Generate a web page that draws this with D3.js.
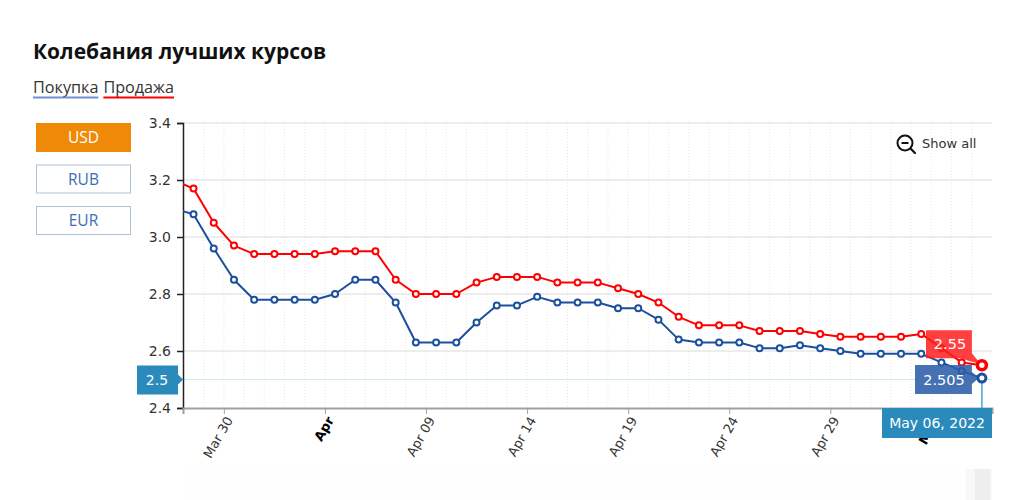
<!DOCTYPE html>
<html>
<head>
<meta charset="utf-8">
<script src="https://cdn.jsdelivr.net/npm/d3@7"></script>
<style>
  body { margin: 0; background: #fff; }
  svg { display: block; }
</style>
</head>
<body>
<div class="viz"></div>
<script>
// daily rates, first day sits just left of the visible window
const dates = [
  '2022-03-27', '2022-03-28', '2022-03-29', '2022-03-30', '2022-03-31',
  '2022-04-01', '2022-04-02', '2022-04-03', '2022-04-04', '2022-04-05',
  '2022-04-06', '2022-04-07', '2022-04-08', '2022-04-09', '2022-04-10',
  '2022-04-11', '2022-04-12', '2022-04-13', '2022-04-14', '2022-04-15',
  '2022-04-16', '2022-04-17', '2022-04-18', '2022-04-19', '2022-04-20',
  '2022-04-21', '2022-04-22', '2022-04-23', '2022-04-24', '2022-04-25',
  '2022-04-26', '2022-04-27', '2022-04-28', '2022-04-29', '2022-04-30',
  '2022-05-01', '2022-05-02', '2022-05-03', '2022-05-04', '2022-05-05',
  '2022-05-06'
]
const buyRates = [
  3.10, 3.08, 2.96, 2.85, 2.78, 2.78, 2.78, 2.78, 2.80, 2.85,
  2.85, 2.77, 2.63, 2.63, 2.63, 2.70, 2.76, 2.76, 2.79, 2.77,
  2.77, 2.77, 2.75, 2.75, 2.71, 2.64, 2.63, 2.63, 2.63, 2.61,
  2.61, 2.62, 2.61, 2.60, 2.59, 2.59, 2.59, 2.59, 2.56, 2.53,
  2.505
]
const sellRates = [
  3.20, 3.17, 3.05, 2.97, 2.94, 2.94, 2.94, 2.94, 2.95, 2.95,
  2.95, 2.85, 2.80, 2.80, 2.80, 2.84, 2.86, 2.86, 2.86, 2.84,
  2.84, 2.84, 2.82, 2.80, 2.77, 2.72, 2.69, 2.69, 2.69, 2.67,
  2.67, 2.67, 2.66, 2.65, 2.65, 2.65, 2.65, 2.66, 2.61, 2.56,
  2.55
]
const yTicks = [2.4, 2.6, 2.8, 3.0, 3.2, 3.4]
const xTickDates = ['2022-03-30', '2022-04-04', '2022-04-09', '2022-04-14', '2022-04-19', '2022-04-24', '2022-04-29', '2022-05-04']
const xTickLabels = ['Mar 30', 'Apr', 'Apr 09', 'Apr 14', 'Apr 19', 'Apr 24', 'Apr 29', 'May']
const monthTicks = ['Apr', 'May']
const currencies = ['USD', 'RUB', 'EUR']
const seriesNames = ['Покупка', 'Продажа']
const crosshairValue = 2.5

const parseDay = d3.utcParse('%Y-%m-%d')
const blue = '#1c4f9e'
const red = '#ff0000'
const teal = '#2a8abb'
const chartFont = '"DejaVu Sans", Verdana, sans-serif'
const pageFont = '"Open Sans", sans-serif'

const svg = d3.select('.viz')
  .append('svg')
    .attr('width', 1030)
    .attr('height', 500)

const plotLeft = 183, plotRight = 992, plotTop = 123, plotBottom = 408

// points sit at noon, ticks at midnight
const points = dates.map((d, i) => ({
  date: d3.utcHour.offset(parseDay(d), 12),
  buy: buyRates[i],
  sell: sellRates[i]
}))
const x = d3.scaleUtc()
  .domain([d3.utcMinute.offset(parseDay('2022-03-27'), 23 * 60 + 30), parseDay('2022-05-07')])
  .range([plotLeft, plotRight])
const y = d3.scaleLinear().domain([2.4, 3.4]).range([plotBottom, plotTop])

// title and legend
svg.append('text')
  .attr('x', 33).attr('y', 59)
  .attr('font-family', pageFont).attr('font-weight', 700).attr('font-size', 21)
  .attr('fill', '#111')
  .text('Колебания лучших курсов')

const legend = svg.append('g').attr('font-family', pageFont).attr('font-size', 16.2).attr('fill', '#333')
let lx = 33
seriesNames.forEach((name, i) => {
  const t = legend.append('text').attr('x', lx).attr('y', 93).text(name)
  const w = t.node().getComputedTextLength()
  legend.append('line')
    .attr('x1', lx).attr('x2', lx + w).attr('y1', 97.5).attr('y2', 97.5)
    .attr('stroke', i === 0 ? '#6f8fd6' : red).attr('stroke-width', 2)
  lx += w + 5
})

// currency buttons
const buttons = svg.selectAll('g.btn')
  .data(currencies).enter().append('g')
  .attr('class', 'btn')
  .attr('transform', (d, i) => `translate(36, ${123 + i * 41.5})`)
buttons.append('rect')
  .attr('x', 0.5).attr('y', 0.5).attr('width', 94).attr('height', 28)
  .attr('fill', (d, i) => i === 0 ? '#ee8a08' : '#fff')
  .attr('stroke', (d, i) => i === 0 ? '#ee8a08' : '#adc2d3')
buttons.append('text')
  .attr('x', 47.5).attr('y', 20)
  .attr('text-anchor', 'middle')
  .attr('font-family', pageFont).attr('font-size', 15.5)
  .attr('fill', (d, i) => i === 0 ? '#fff' : '#3d6db5')
  .text(d => d)

// faint navigator strip below
svg.append('rect').attr('x', 183).attr('y', 468).attr('width', 809).attr('height', 32).attr('fill', '#fefefe')
svg.append('rect').attr('x', 966).attr('y', 469).attr('width', 26).attr('height', 31).attr('fill', '#f8f8f8')
svg.append('rect').attr('x', 975).attr('y', 469).attr('width', 15).attr('height', 31).attr('fill', '#eeeeee')

// grid
svg.append('g')
  .selectAll('line')
  .data(d3.utcDay.range(x.domain()[0], x.domain()[1])).enter().append('line')
  .attr('x1', d => x(d)).attr('x2', d => x(d))
  .attr('y1', plotTop).attr('y2', plotBottom)
  .attr('stroke', '#e8e8e8').attr('stroke-dasharray', '1,2')

svg.append('g')
  .selectAll('line')
  .data(yTicks.slice(1)).enter().append('line')
  .attr('x1', plotLeft).attr('x2', plotRight)
  .attr('y1', d => y(d)).attr('y2', d => y(d))
  .attr('stroke', '#dcdcdc').attr('stroke-width', 1.2)

// crosshair at the hovered value
svg.append('line')
  .attr('x1', plotLeft).attr('x2', plotRight)
  .attr('y1', y(crosshairValue)).attr('y2', y(crosshairValue))
  .attr('stroke', '#cfe6f3')

// y axis
const yAxis = svg.append('g')
  .attr('transform', `translate(${plotLeft}, 0)`)
  .call(d3.axisLeft(y).tickValues(yTicks).tickFormat(d3.format('.1f')).tickSize(6).tickPadding(6))
yAxis.select('.domain').attr('stroke', '#222').attr('stroke-width', 1.5)
yAxis.selectAll('.tick line').attr('stroke', '#222').attr('stroke-width', 1.5)
yAxis.selectAll('text').attr('font-family', chartFont).attr('font-size', 14).attr('fill', '#333')

// x axis
const xAxis = svg.append('g')
  .attr('transform', `translate(0, ${plotBottom})`)
  .call(d3.axisBottom(x)
    .tickValues(xTickDates.map(parseDay))
    .tickFormat((d, i) => xTickLabels[i])
    .tickSizeOuter(0).tickSize(6))
xAxis.select('.domain').attr('stroke', '#a0a0a0').attr('stroke-width', 2)
xAxis.selectAll('.tick line').attr('stroke', '#a0a0a0')
xAxis.selectAll('text')
  .attr('font-family', chartFont).attr('font-size', 13)
  .attr('text-anchor', 'end')
  .attr('dy', 0)
  .attr('y', 0)
  .attr('transform', 'translate(9, 12) rotate(-60)')
  .attr('font-weight', function() { return monthTicks.includes(this.textContent) ? 700 : 400 })
  .attr('fill', function() { return monthTicks.includes(this.textContent) ? '#000' : '#333' })

// series
svg.append('clipPath').attr('id', 'plot')
  .append('rect').attr('x', plotLeft).attr('y', plotTop - 8).attr('width', plotRight - plotLeft + 8).attr('height', plotBottom - plotTop + 16)

const series = [
  { key: 'sell', color: red },
  { key: 'buy', color: blue }
]
const plot = svg.append('g').attr('clip-path', 'url(#plot)')
series.forEach(s => {
  plot.append('path')
    .datum(points)
    .attr('d', d3.line().x(d => x(d.date)).y(d => y(d[s.key])))
    .attr('fill', 'none')
    .attr('stroke', s.color)
    .attr('stroke-width', 2)
    .attr('stroke-linejoin', 'round')
  plot.selectAll(`circle.${s.key}`)
    .data(points.slice(0, -1)).enter().append('circle')
    .attr('class', s.key)
    .attr('cx', d => x(d.date))
    .attr('cy', d => y(d[s.key]))
    .attr('r', 3)
    .attr('fill', '#fff')
    .attr('stroke', s.color)
    .attr('stroke-width', 2)
})

// hovered point: tooltips and crosshair labels
const last = points[points.length - 1]
const lxp = x(last.date)
const sy = y(last.sell)
const by = y(last.buy)

svg.append('line')
  .attr('x1', lxp).attr('x2', lxp).attr('y1', by).attr('y2', plotBottom)
  .attr('stroke', '#4aa3d3').attr('stroke-width', 1.5)

svg.append('path')
  .attr('d', `M926,${sy - 35}H${lxp - 10}V${sy - 12}L${lxp - 1},${sy - 1}L${lxp - 22},${sy - 7}H926Z`)
  .attr('fill', '#ff1f1f').attr('fill-opacity', 0.85)
svg.append('text')
  .attr('x', 950).attr('y', sy - 16)
  .attr('text-anchor', 'middle')
  .attr('font-family', chartFont).attr('font-size', 14.5).attr('fill', '#fff')
  .text(d3.format('.2f')(last.sell))

svg.append('path')
  .attr('d', `M915,${by - 13}H${lxp - 10}V${by - 6}L${lxp - 3},${by}L${lxp - 10},${by + 6}V${by + 16}H915Z`)
  .attr('fill', '#2c5ea8').attr('fill-opacity', 0.88)
svg.append('text')
  .attr('x', 944).attr('y', by + 6.5)
  .attr('text-anchor', 'middle')
  .attr('font-family', chartFont).attr('font-size', 14.5).attr('fill', '#fff')
  .text(last.buy)

svg.append('circle')
  .attr('cx', lxp).attr('cy', sy).attr('r', 4.5)
  .attr('fill', '#fff').attr('stroke', red).attr('stroke-width', 3.5)
svg.append('circle')
  .attr('cx', lxp).attr('cy', by).attr('r', 4)
  .attr('fill', '#fff').attr('stroke', blue).attr('stroke-width', 3)

svg.append('rect')
  .attr('x', 882).attr('y', plotBottom).attr('width', 110).attr('height', 30)
  .attr('fill', teal)
svg.append('text')
  .attr('x', 937).attr('y', plotBottom + 20)
  .attr('text-anchor', 'middle')
  .attr('font-family', chartFont).attr('font-size', 14).attr('fill', '#fff')
  .text(d3.utcFormat('%b %d, %Y')(parseDay(dates[dates.length - 1])))

const crossY = y(crosshairValue)
svg.append('path')
  .attr('d', `M137,${crossY - 14}H178V${crossY - 5}L183,${crossY}L178,${crossY + 5}V${crossY + 15}H137Z`)
  .attr('fill', teal)
svg.append('text')
  .attr('x', 157).attr('y', crossY + 5.5)
  .attr('text-anchor', 'middle')
  .attr('font-family', chartFont).attr('font-size', 14).attr('fill', '#fff')
  .text(crosshairValue)

// show all button
const zoomOut = svg.append('g').attr('transform', 'translate(905, 143)')
zoomOut.append('circle').attr('r', 7.5).attr('fill', 'none').attr('stroke', '#111').attr('stroke-width', 2)
zoomOut.append('line').attr('x1', -3.5).attr('x2', 3.5).attr('y1', 0).attr('y2', 0).attr('stroke', '#111').attr('stroke-width', 2)
zoomOut.append('line').attr('x1', 5.5).attr('x2', 10).attr('y1', 5.5).attr('y2', 10).attr('stroke', '#111').attr('stroke-width', 2.2).attr('stroke-linecap', 'round')
svg.append('text')
  .attr('x', 922).attr('y', 147.5)
  .attr('font-family', chartFont).attr('font-size', 13).attr('fill', '#333')
  .text('Show all')
</script>
</body>
</html>
